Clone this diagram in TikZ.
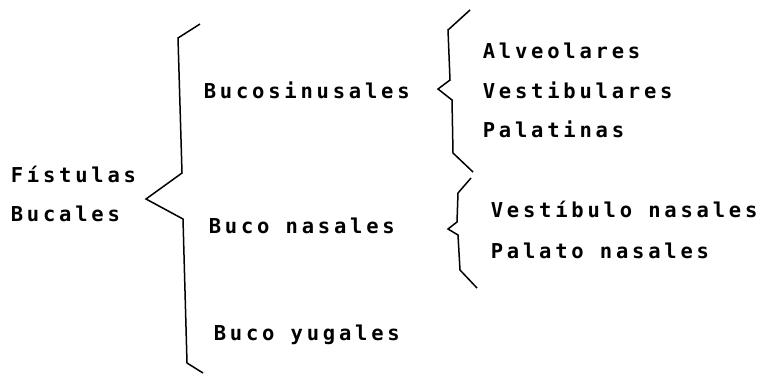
\documentclass[tikz,border=0pt]{standalone}
\usepackage{fontspec}
\newfontfamily\typefont[LetterSpace=18.5]{DejaVu Sans Mono}
\begin{document}
\begin{tikzpicture}[x=1pt, y=-1pt, line width=1.5pt,
  every node/.style={font=\typefont\bfseries\fontsize{20.5}{24}\selectfont, anchor=base west, inner sep=0pt}]
  \useasboundingbox (0,0) rectangle (765,373);
  % big brace
  \coordinate (A1) at (200,24);
  \coordinate (A2) at (178,38);
  \coordinate (A3) at (182,173);
  \coordinate (A4) at (146,199);
  \coordinate (A5) at (183,219);
  \coordinate (A6) at (187,363);
  \coordinate (A7) at (203,373);
  \draw (A1)--(A2)--(A3)--(A4)--(A5)--(A6)--(A7);
  % upper small brace
  \coordinate (S1) at (470,10);
  \coordinate (S2) at (448,30);
  \coordinate (S3) at (450,80);
  \coordinate (S4) at (438,89);
  \coordinate (S5) at (452,100);
  \coordinate (S6) at (453,153);
  \coordinate (S7) at (473,172);
  \draw (S1)--(S2)--(S3)--(S4)--(S5)--(S6)--(S7);
  % lower small brace
  \coordinate (N1) at (471,178);
  \coordinate (N2) at (458,193);
  \coordinate (N3) at (457,222);
  \coordinate (N4) at (448,229);
  \coordinate (N5) at (458,235);
  \coordinate (N6) at (460,270);
  \coordinate (N7) at (477,288);
  \draw (N1)--(N2)--(N3)--(N4)--(N5)--(N6)--(N7);
  \node (fistulas) at (10,182) {Fístulas};
  \node (bucales) at (10,221) {Bucales};
  \node (bucosin) at (203,98) {Bucosinusales};
  \node (buconas) at (208,233) {Buco nasales};
  \node (bucoyug) at (213,340) {Buco yugales};
  \node (alveol) at (482,58) {Alveolares};
  \node (vestib) at (482,98) {Vestibulares};
  \node (palat) at (482,137) {Palatinas};
  \node (vestnas) at (490,217) {Vestíbulo nasales};
  \node (palnas) at (490,258) {Palato nasales};
\end{tikzpicture}
\end{document}
